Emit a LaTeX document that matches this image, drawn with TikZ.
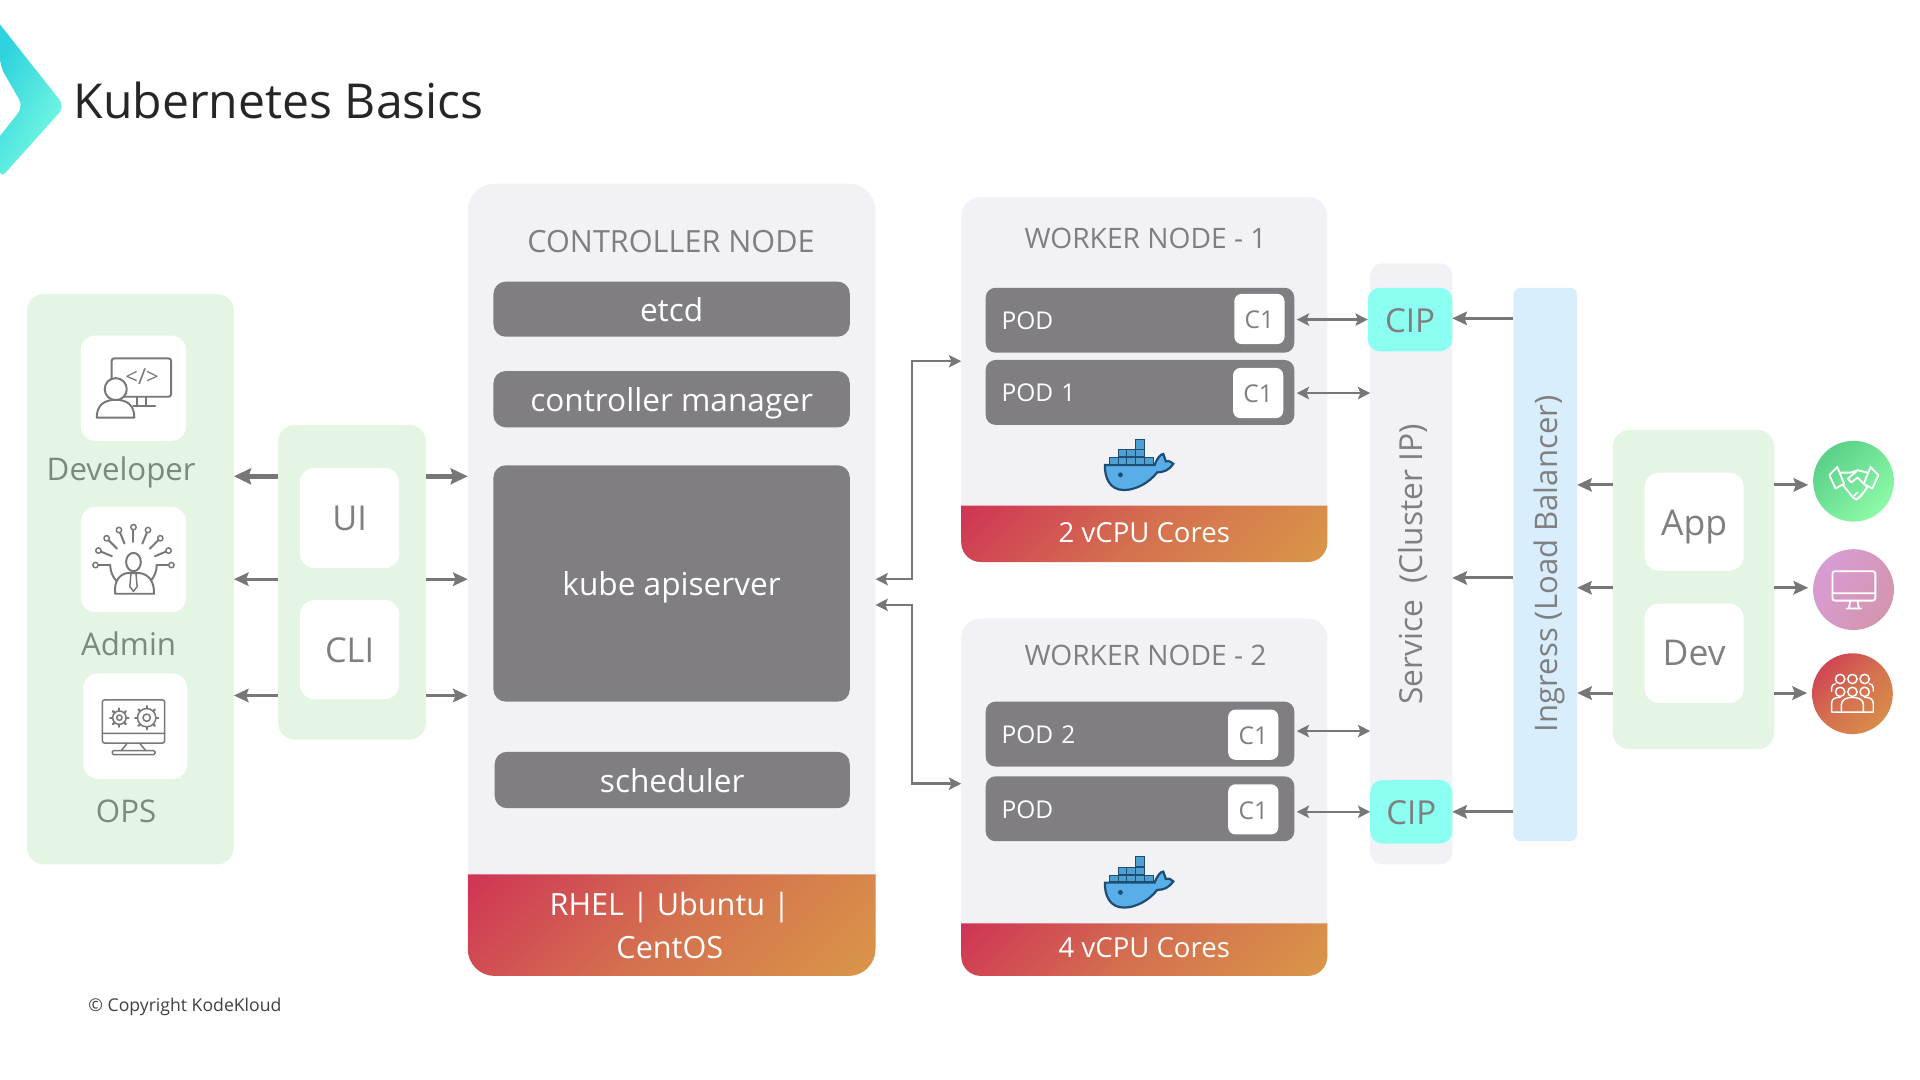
\documentclass[tikz,border=0pt]{standalone}
\usepackage{fontspec}
\setmainfont{Open Sans}
\usetikzlibrary{arrows.meta}
\definecolor{panelgrey}{HTML}{F2F1F5}
\definecolor{bargrey}{HTML}{807E82}
\definecolor{softgreen}{HTML}{E5F5E3}
\definecolor{cipcyan}{HTML}{8BFFF2}
\definecolor{ingressblue}{HTML}{D9EEFD}
\definecolor{inkgrey}{HTML}{7F7F7F}
\definecolor{usergrey}{HTML}{7B8A7C}
\definecolor{linkgrey}{HTML}{777777}
\definecolor{bandred}{HTML}{CF3555}
\definecolor{bandmid}{HTML}{D4714F}
\definecolor{bandorange}{HTML}{DA9648}
\definecolor{whaleblue}{HTML}{5AAEE8}
\definecolor{whaleline}{HTML}{1D4D72}
\definecolor{boxblue}{HTML}{4F9FD0}
\definecolor{chevrontop}{HTML}{2FD3DE}
\definecolor{chevronend}{HTML}{7CFDE2}
\definecolor{spotgreenA}{HTML}{5AD088}
\definecolor{spotgreenB}{HTML}{8DFAA8}
\definecolor{spotpurpleA}{HTML}{D89CD4}
\definecolor{spotpurpleB}{HTML}{D495AE}
\pgfdeclareverticalshading{bandshade}{100bp}{color(0bp)=(bandorange); color(15bp)=(bandorange); color(50bp)=(bandmid); color(85bp)=(bandred); color(100bp)=(bandred)}
\newcommand{\fsz}[1]{\fontsize{#1}{#1}\selectfont}
\tikzset{
  panel/.style={fill=panelgrey, rounded corners=16pt, inner sep=0pt, outer sep=0pt},
  greenpanel/.style={fill=softgreen, rounded corners=14pt, inner sep=0pt, outer sep=0pt},
  tile/.style={fill=white, rounded corners=12pt, inner sep=0pt, outer sep=0pt, text=inkgrey, font=\fsz{28}, text height=21pt, text depth=0pt},
  bar/.style={fill=bargrey, rounded corners=10pt, inner sep=0pt, outer sep=0pt, text=white, font=\fsz{25.8}, text height=19.8pt, text depth=0pt},
  podbar/.style={fill=bargrey, rounded corners=8pt, inner xsep=13pt, inner ysep=0pt, outer sep=0pt, text=white, font=\fsz{20}, text width=226pt, align=left, minimum width=252, minimum height=53, text height=15.5pt, text depth=0pt},
  ctile/.style={fill=white, rounded corners=6pt, inner sep=0pt, outer sep=0pt, text=inkgrey, font=\fsz{20}, minimum width=41, minimum height=41, text height=16pt, text depth=0pt},
  heading/.style={text=inkgrey, inner sep=0pt},
  usertext/.style={text=usergrey, font=\fsz{25.5}, inner sep=0pt, text depth=0pt},
  bandtext/.style={text=white, inner sep=0pt, align=center},
  cipbox/.style={fill=cipcyan, rounded corners=10pt, inner sep=0pt, outer sep=0pt, text=inkgrey, font=\fsz{27}, text height=21pt, text depth=0pt},
  sidetext/.style={rotate=90, text=inkgrey, inner sep=0pt},
  spot/.style={circle, minimum size=66, inner sep=0pt, outer sep=0pt},
  link/.style={draw=linkgrey, line width=2.4pt, -{Stealth[length=12pt,width=11pt,inset=2pt]}},
  heavylink/.style={draw=linkgrey, line width=4pt, -{Stealth[length=14pt,width=13pt,inset=2pt]}},
  bilink/.style={draw=linkgrey, line width=2pt, {Stealth[length=10pt,width=10pt,inset=2pt]}-{Stealth[length=10pt,width=10pt,inset=2pt]}},
  icon/.style={draw=linkgrey, line width=1.6pt, line join=round, line cap=round},
  spoticon/.style={draw=white, line width=1.5pt, line join=round, line cap=round},
  whale/.pic={
    \fill[whaleblue, draw=whaleline, line width=1.8pt] (-27.6,0) -- (13,0) .. controls (15,-6) and (18,-9) .. (20,-9) .. controls (21,-6) and (22,-4) .. (22,-3) .. controls (25,-4) and (27,-2) .. (28.2,-1) .. controls (25,4) and (20,6) .. (15,6) .. controls (8,15) and (-3,20.4) .. (-12,20.4) .. controls (-24,20.4) and (-28,10) .. (-27.6,0) -- cycle;
    \fill[whaleline] (-15,8) circle (2);
    \foreach \i in {0,...,4} \filldraw[fill=boxblue, draw=whaleline, line width=.8pt] (-24.1+7.2*\i,-6.2) rectangle ++(7.2,5.5);
    \foreach \i in {1,...,3} \filldraw[fill=boxblue, draw=whaleline, line width=.8pt] (-24.1+7.2*\i,-12.6) rectangle ++(7.2,5.6);
    \filldraw[fill=boxblue, draw=whaleline, line width=.8pt] (-3,-21) rectangle ++(8,8);
  }
}
\begin{document}
\begin{tikzpicture}[x=1pt,y=-1pt]
\useasboundingbox (0,0) rectangle (1568,882);
%TITLE
\shade[top color=chevrontop, bottom color=chevronend, shading angle=60, rounded corners=7pt] (0,20) -- (53,87) -- (0,146) [sharp corners] -- (0,111) [rounded corners=7pt] -- (19,87) -- (0,54) [sharp corners] -- cycle;
\node[anchor=west, inner sep=0pt, text=black!85, font=\fsz{39.3}] (title) at (60,82) {Kubernetes Basics};
\node[anchor=west, inner sep=0pt, text=black!75, font=\fsz{14.4}] (copyright) at (72,822) {© Copyright KodeKloud};
%USERS
\node[greenpanel, minimum width=169, minimum height=466] (userbox) at (106.5,473) {};
\node[tile, minimum width=86, minimum height=86] (devtile) at (109,317) {};
\node[tile, minimum width=86, minimum height=86] (admintile) at (109,457) {};
\node[tile, minimum width=85, minimum height=86] (opstile) at (110.5,593) {};
\node[usertext] (devtext) at (99,383) {Developer};
\node[usertext] (admintext) at (105,526) {Admin};
\node[usertext] (opstext) at (103,662.5) {OPS};
% developer icon
\draw[icon, rounded corners=2pt] (91.2,292.7) rectangle (139.7,324);
\draw[icon] (112,324) -- (112,331.8) (119,324) -- (119,331.8) (109,331.8) -- (126.6,331.8);
\node[text=linkgrey, inner sep=0pt, font=\fsz{18}] (codetext) at (116,307.5) {</>};
\filldraw[icon, fill=white] (94.5,317.8) circle (9);
\filldraw[icon, fill=white] (79,341) .. controls (79,331) and (85,326.5) .. (94.5,326.5) .. controls (104,326.5) and (109.7,331) .. (109.7,341) -- cycle;
% admin icon
\foreach \a in {0,22.5,...,180} {
  \draw[icon] (109,461.5) ++(\a:-19) -- ++(\a:-10);
  \filldraw[icon, fill=white, line width=1.2pt] (109,461.5) ++(\a:-31) circle (2.2);
}
\draw[icon] (90,461.5) arc[start angle=180, end angle=0, radius=19];
\filldraw[icon, fill=white] (109,459) ellipse (6 and 7.5);
\filldraw[icon, fill=white] (94,484.9) .. controls (93,474) and (98,469) .. (104,468) -- (114,468) .. controls (121,469) and (126,474) .. (125.8,484.9) -- cycle;
\draw[icon, line width=1.2pt] (107,468) -- (106,479) -- (109,483) -- (112,479) -- (111,468);
% ops icon
\draw[icon, line width=1.2pt, rounded corners=2pt] (83.6,571.5) rectangle (134.5,606.9);
\draw[icon, line width=1.2pt] (83.6,599) -- (134.5,599) (104,606.9) -- (99,613) (114,606.9) -- (119,613);
\draw[icon, line width=1.2pt, rounded corners=1pt] (91.7,613) rectangle (126.6,616.3);
\foreach \cx/\cy/\r in {97.5/586.1/5.5, 119.8/586.1/7.5} {
  \draw[icon, line width=1.2pt] (\cx,\cy) circle (\r);
  \draw[icon, line width=1.2pt] (\cx,\cy) circle (\r*.4);
  \foreach \a in {0,45,...,315} \draw[icon, line width=1.8pt] (\cx,\cy) ++(\a:\r) -- ++(\a:2);
}
%CLIENTS
\node[greenpanel, minimum width=121, minimum height=257] (clibox) at (287.5,475.5) {};
\node[tile, minimum width=81, minimum height=82] (uitile) at (285.5,423) {UI};
\node[tile, minimum width=81, minimum height=81] (clitile) at (285.5,530.5) {CLI};
%CONTROLLER
\node[panel, rounded corners=22pt, minimum width=333, minimum height=647] (controller) at (548.5,473.5) {};
\shade[shading=bandshade, shading angle=45] (382,714) -- (715,714) [rounded corners=22pt] -- (715,797) -- (382,797) [sharp corners] -- cycle;
\node[heading, font=\fsz{25}] (controllertext) at (548,197) {CONTROLLER NODE};
\node[bar, minimum width=291, minimum height=45] (etcd) at (548.5,252.5) {etcd};
\node[bar, minimum width=291, minimum height=46] (manager) at (548.5,326) {controller manager};
\node[bar, minimum width=291, minimum height=193] (apiserver) at (548.5,476.5) {kube apiserver};
\node[bar, minimum width=290, minimum height=46] (scheduler) at (549,637) {scheduler};
\node[bandtext, font=\fsz{25}] (ostext) at (547,755.5) {RHEL | Ubuntu |\\[10pt]CentOS};
%WORKERS
\node[panel, minimum width=299, minimum height=298] (worker1) at (934.5,310) {};
\shade[shading=bandshade, shading angle=45] (785,413) -- (1084,413) [rounded corners=16pt] -- (1084,459) -- (785,459) [sharp corners] -- cycle;
\node[heading, font=\fsz{23}] (worker1text) at (935.5,195) {WORKER NODE - 1};
\node[podbar] (pod11) at (931,261.5) {POD};
\node[podbar] (pod12) at (931,320.5) {POD 1};
\node[ctile] (c11) at (1028.5,260.5) {C1};
\node[ctile] (c12) at (1027.5,321) {C1};
\pic at (930,379.8) {whale};
\node[bandtext, font=\fsz{22.5}] (cores1) at (934.5,435) {2 vCPU Cores};
\node[panel, minimum width=299, minimum height=292] (worker2) at (934.5,651) {};
\shade[shading=bandshade, shading angle=45] (785,754) -- (1084,754) [rounded corners=16pt] -- (1084,797) -- (785,797) [sharp corners] -- cycle;
\node[heading, font=\fsz{23}] (worker2text) at (935.5,535) {WORKER NODE - 2};
\node[podbar] (pod21) at (931,599.5) {POD 2};
\node[podbar] (pod22) at (931,660.5) {POD};
\node[ctile] (c21) at (1023.5,600) {C1};
\node[ctile] (c22) at (1023.5,661) {C1};
\pic at (930,720.8) {whale};
\node[bandtext, font=\fsz{22.5}] (cores2) at (934.5,774) {4 vCPU Cores};
%SERVICE AND INGRESS
\node[panel, rounded corners=10pt, minimum width=67, minimum height=491] (service) at (1152.5,460.5) {};
\node[cipbox, minimum width=69, minimum height=52] (cip1) at (1151.5,261) {CIP};
\node[cipbox, minimum width=67, minimum height=52] (cip2) at (1152.5,663) {CIP};
\node[sidetext, font=\fsz{25.9}] (servicetext) at (1154,461) {Service\ \ (Cluster IP)};
\node[fill=ingressblue, rounded corners=6pt, inner sep=0pt, outer sep=0pt, minimum width=52, minimum height=452] (ingress) at (1262,461) {};
\node[sidetext, font=\fsz{25.4}] (ingresstext) at (1265,460.5) {Ingress (Load Balancer)};
%APPS
\node[greenpanel, minimum width=132, minimum height=261] (appbox) at (1383,481.5) {};
\node[tile, font=\fsz{29}, text height=22pt, minimum width=81, minimum height=80] (apptile) at (1383.5,426) {App};
\node[tile, font=\fsz{29}, text height=20pt, minimum width=81, minimum height=81] (devbox) at (1383.5,533.5) {Dev};
\node[spot, top color=spotgreenA, bottom color=spotgreenB, shading angle=45] (spot1) at (1513.7,393) {};
\node[spot, top color=spotpurpleA, bottom color=spotpurpleB, shading angle=60] (spot2) at (1513.7,481.5) {};
\node[spot, shading=bandshade, shading angle=45] (spot3) at (1512.8,566.5) {};
% handshake icon
\begin{scope}[shift={(1514,395)}]
\draw[spoticon] (-20,-7) -- (-13.6,-13.6) -- (-8,0) -- (-15,4) -- cycle;
\draw[spoticon] (20,-7) -- (13.6,-13.6) -- (8,0) -- (15,4) -- cycle;
\draw[spoticon] (-11,-9) -- (-3,-9) -- (3,-11) -- (11,-9);
\draw[spoticon] (2,-10) -- (-5,-4) -- (-2,-1) -- (3,-5) -- (11,3);
\draw[spoticon] (-9,1) -- (-1,11) -- (2,13) -- (5,11) -- (11,3);
\draw[spoticon, line width=1.1pt] (-1,11) -- (3,7) (2,13) -- (6,9) (5,11) -- (8,7);
\end{scope}
% monitor icon
\begin{scope}[shift={(1514,481.5)}]
\draw[spoticon, rounded corners=2pt] (-17.5,-15) rectangle (17.5,9);
\draw[spoticon] (-17.5,3) -- (17.5,3) (-3,9) -- (-4,15) (3,9) -- (4,15) (-6,15.5) -- (6,15.5);
\end{scope}
% people icon
\begin{scope}[shift={(1512.8,566.5)}]
\foreach \x in {-10,0,10} {
  \draw[spoticon, line width=1.2pt] (\x,-12) circle (3.8);
  \draw[spoticon, line width=1.2pt] (\x,-1.5) circle (3.8);
}
\draw[spoticon, line width=1.2pt] (-17,-2) -- (-17,-5) .. controls (-17,-7) and (-15,-8) .. (-14,-8) (17,-2) -- (17,-5) .. controls (17,-7) and (15,-8) .. (14,-8);
\draw[spoticon, line width=1.2pt] (-9,15) -- (-9,9) .. controls (-9,5) and (-5,3) .. (0,3) .. controls (5,3) and (9,5) .. (9,9) -- (9,15) -- cycle;
\draw[spoticon, line width=1.2pt] (-9,15) -- (-17,15) -- (-17,8) .. controls (-17,4) and (-14,3) .. (-10,3);
\draw[spoticon, line width=1.2pt] (9,15) -- (17,15) -- (17,8) .. controls (17,4) and (14,3) .. (10,3);
\end{scope}
%ARROWS
\draw[heavylink] (clibox.west |- 0,389) -- (userbox.east |- 0,389);
\draw[heavylink] (clibox.east |- 0,389) -- (controller.west |- 0,389);
\foreach \y in {473,568} {
  \draw[link] (clibox.west |- 0,\y) -- (userbox.east |- 0,\y);
  \draw[link] (clibox.east |- 0,\y) -- (controller.west |- 0,\y);
}
\draw[bilink] (controller.east |- 0,473) -- ++(30,0) |- (worker1.west |- 0,295);
\draw[bilink] (controller.east |- 0,494) -- ++(30,0) |- (worker2.west |- 0,640);
\draw[bilink, shorten <=2pt] (pod11.east |- 0,261) -- (cip1.west |- 0,261);
\draw[bilink, shorten <=2pt] (pod12.east |- 0,321) -- (service.west |- 0,321);
\draw[bilink, shorten <=2pt] (pod21.east |- 0,597) -- (service.west |- 0,597);
\draw[bilink, shorten <=2pt] (pod22.east |- 0,663) -- (cip2.west |- 0,663);
\draw[link] (ingress.west |- 0,260) -- (cip1.east |- 0,260);
\draw[link] (ingress.west |- 0,472) -- (service.east |- 0,472);
\draw[link] (ingress.west |- 0,663) -- (cip2.east |- 0,663);
\foreach \y/\s in {396/spot1,480/spot2,566/spot3} {
  \draw[link] (appbox.west |- 0,\y) -- (ingress.east |- 0,\y);
  \draw[link, shorten >=4pt] (appbox.east |- 0,\y) -- (\s.west |- 0,\y);
}
\end{tikzpicture}
\end{document}
